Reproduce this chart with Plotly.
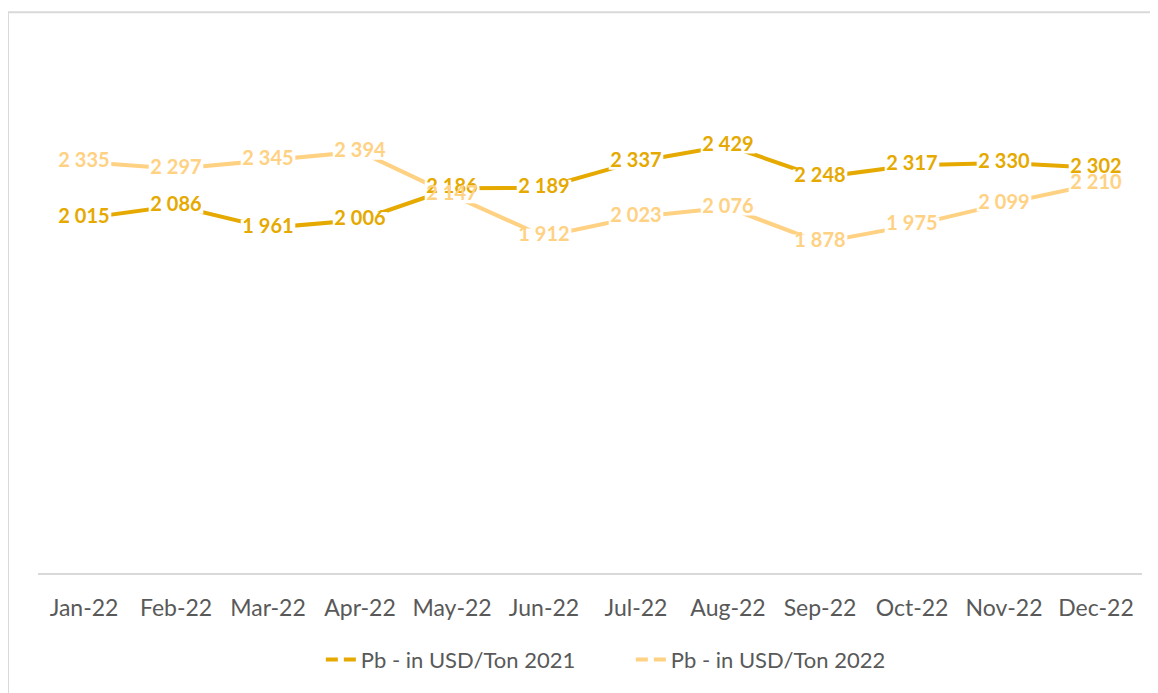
import plotly.graph_objects as go

months = ["Jan-22", "Feb-22", "Mar-22", "Apr-22", "May-22", "Jun-22",
          "Jul-22", "Aug-22", "Sep-22", "Oct-22", "Nov-22", "Dec-22"]
pb_2021 = [2015, 2086, 1961, 2006, 2186, 2189, 2337, 2429, 2248, 2317, 2330, 2302]
pb_2022 = [2335, 2297, 2345, 2394, 2147, 1912, 2023, 2076, 1878, 1975, 2099, 2210]
name_2021 = "Pb - in USD/Ton 2021"
name_2022 = "Pb - in USD/Ton 2022"

C21 = "#E5A900"
C22 = "#FFD183"
FONT = "Lato"

def fmt(v):
    return f"{v:,}".replace(",", " ")

fig = go.Figure()
# lines
for vals, col in [(pb_2022, C22), (pb_2021, C21)]:
    fig.add_trace(go.Scatter(x=months, y=vals, mode="lines",
                             line=dict(color=col, width=4),
                             showlegend=False, hoverinfo="skip"))
# white masks behind labels (labels sit on the points)
for vals in [pb_2021, pb_2022]:
    fig.add_trace(go.Scatter(x=months, y=vals, mode="markers",
                             marker=dict(symbol="line-ew", size=39,
                                         line=dict(color="white", width=16)),
                             showlegend=False, hoverinfo="skip"))
# labels
for vals, col in [(pb_2021, C21), (pb_2022, C22)]:
    fig.add_trace(go.Scatter(x=months, y=vals, mode="text",
                             text=[fmt(v) for v in vals],
                             textposition="middle center",
                             textfont=dict(family=FONT, size=20, color=col,
                                           weight="bold"),
                             showlegend=False, hoverinfo="skip"))
# legend entries
for nm, col in [(name_2021, C21), (name_2022, C22)]:
    fig.add_trace(go.Scatter(x=[None], y=[None], mode="lines", name=nm,
                             line=dict(color=col, width=4, dash="12px,6px")))

fig.update_layout(
    width=1150, height=685,
    margin=dict(l=30, r=16, t=37, b=117),
    paper_bgcolor="white", plot_bgcolor="white",
    xaxis=dict(showline=True, linecolor="#D9D9D9", linewidth=1.5,
               range=[-0.5, 11.5],
               showgrid=False, ticks="", ticklabelstandoff=14,
               tickfont=dict(family=FONT, size=23, color="#595959")),
    yaxis=dict(range=[0, 3000], visible=False, showgrid=False),
    legend=dict(orientation="h", x=0.537, xanchor="center", y=-0.164,
                yanchor="middle", font=dict(family=FONT, size=22, color="#595959"),
                entrywidth=265, tracegroupgap=0),
    shapes=[dict(type="rect", xref="paper", yref="paper",
                 x0=-0.0272, x1=1.2, y0=-0.6, y1=1.0621,
                 line=dict(color="#D9D9D9", width=2), layer="below")],
)

fig.write_html("out.html")
